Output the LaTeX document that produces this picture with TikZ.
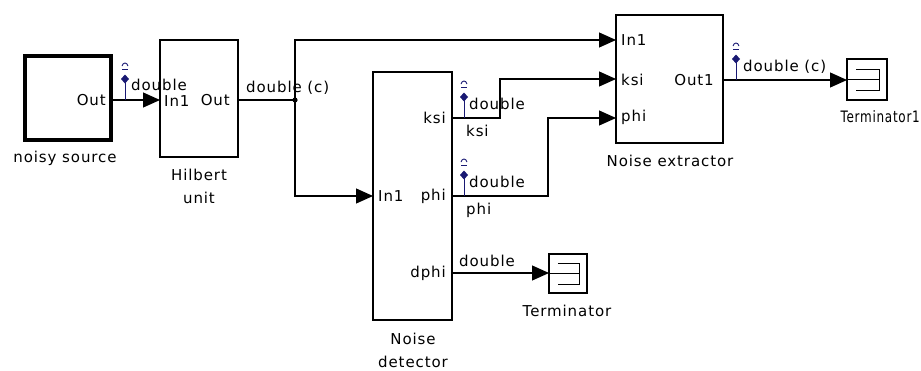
\documentclass[tikz,border=0pt]{standalone}
\usepackage{fontspec}
\setmainfont[LetterSpace=6]{DejaVu Sans}
\usetikzlibrary{arrows.meta,calc}
\definecolor{probecol}{RGB}{25,25,115}
\begin{document}
\begin{tikzpicture}[x=1pt,y=-1pt,
  blk/.style={draw, line width=1.2pt, inner sep=0, fill=white},
  lbl/.style={font=\fontsize{15}{17}\selectfont, inner sep=0},
  sig/.style={draw, line width=1.2pt},
  arr/.style={sig, -{Triangle[length=17pt,width=15pt]}},
  probe/.style={draw=probecol, line width=1pt}]
\useasboundingbox (0,0) rectangle (921,370);

% blocks
\node[blk, line width=3.2pt, minimum width=86pt, minimum height=84pt] (ns) at (68,98) {};
\node[blk, minimum width=78pt, minimum height=117pt] (hil) at (199,98.5) {};
\node[blk, minimum width=79pt, minimum height=248pt] (nd) at (412.5,196) {};
\node[blk, minimum width=107pt, minimum height=128pt] (ne) at (669.5,79) {};
\node[blk, minimum width=38pt, minimum height=39pt] (term) at (568,273.5) {};
\node[blk, minimum width=40pt, minimum height=41pt] (term1) at (867,79.5) {};

% terminator icons
\foreach \t/\w/\h in {term/38/39, term1/40/41}{
  \draw[line width=1.1pt] ($(\t.north west)+(0.25*\w,0.27*\h)$) -- ++(0.57*\w,0) -- ++(0,0.52*\h) -- ++(-0.57*\w,0);
  \draw[line width=1.1pt] (\t.west) -- ++(0.82*\w,0);
}

% port coordinates
\coordinate (nsO) at (111,100);
\coordinate (hilI) at (160,100);
\coordinate (hilO) at (238,100);
\coordinate (br) at (295,100);
\coordinate (ndI) at (373,196);
\coordinate (ndK) at (452,118);
\coordinate (ndP) at (452,196);
\coordinate (ndD) at (452,273);
\coordinate (kj) at (500,79);
\coordinate (pj) at (548,118);
\coordinate (neI) at (616,40);
\coordinate (neK) at (616,79);
\coordinate (neP) at (616,118);
\coordinate (neO) at (723,80);
\coordinate (tI) at (549,273);
\coordinate (t1I) at (847,80);

% connectors
\draw[arr] (nsO) -- (hilI);
\draw[sig] (hilO) -- (br);
\draw[arr] (br) |- (neI);
\draw[arr] (br) |- (ndI);
\fill (br) circle (2.6);
\draw[arr] (ndK) -| (kj) -- (neK);
\draw[arr] (ndP) -| (pj) -- (neP);
\draw[arr] (ndD) -- (tI);
\draw[arr] (neO) -- (t1I);

% probes
\foreach \px/\py in {125/100, 464/118, 464/196, 736/80}{
  \draw[probe] (\px,\py) -- (\px,\py-23);
  \fill[probecol] (\px,\py-25.5) -- (\px+4,\py-21) -- (\px,\py-16.5) -- (\px-4,\py-21) -- cycle;
  \draw[probe, line width=0.9pt] (\px-3,\py-34) .. controls (\px-2,\py-38) and (\px+2,\py-38) .. (\px+3,\py-34);
  \draw[probe, line width=0.9pt] (\px-3,\py-30.5) -- (\px+3,\py-30.5);
}

% block texts
\node[lbl, anchor=east] at (106,100) {Out};
\node[lbl] at (65,158) {noisy source};
\node[lbl, anchor=west] at (164,101) {In1};
\node[lbl, anchor=east] at (230,100) {Out};
\node[lbl] at (199,175) {Hilbert};
\node[lbl] at (199,198) {unit};
\node[lbl, anchor=west] at (378,196) {In1};
\node[lbl, anchor=east] at (446,118) {ksi};
\node[lbl, anchor=east] at (446,196) {phi};
\node[lbl, anchor=east] at (446,273) {dphi};
\node[lbl] at (413,339) {Noise};
\node[lbl] at (413,362) {detector};
\node[lbl, anchor=west] at (621,40) {In1};
\node[lbl, anchor=west] at (621,80) {ksi};
\node[lbl, anchor=west] at (621,117) {phi};
\node[lbl, anchor=east] at (714,80) {Out1};
\node[lbl] at (670,161) {Noise extractor};
\node[lbl] at (567,311) {Terminator};
\node[lbl, anchor=east] at (920,117) {\scalebox{0.8}[1.05]{Terminator1}};

% signal labels
\node[lbl, anchor=west] at (131,85) {double};
\node[lbl, anchor=west] at (246,88) {double (c)};
\node[lbl, anchor=west] at (469,104) {double};
\node[lbl, anchor=west] at (466,131) {ksi};
\node[lbl, anchor=west] at (469,182) {double};
\node[lbl, anchor=west] at (466,210) {phi};
\node[lbl, anchor=west] at (459,261) {double};
\node[lbl, anchor=west] at (743,67) {double (c)};
\end{tikzpicture}
\end{document}
